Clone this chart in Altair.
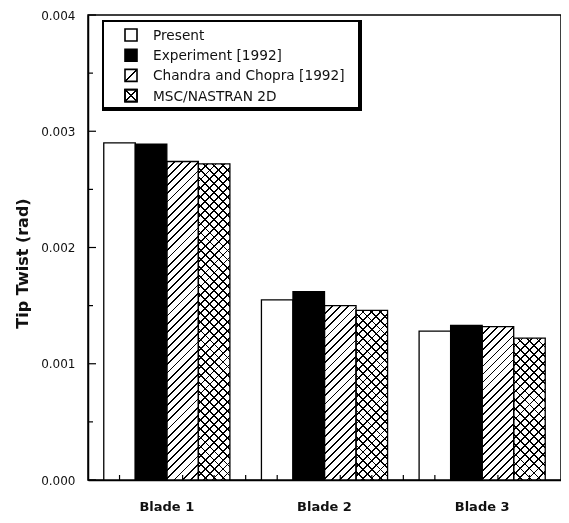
import math
import altair as alt
import pandas as pd

# ---------------- data ----------------
blades = ["Blade 1", "Blade 2", "Blade 3"]
series = ["Present", "Experiment [1992]", "Chandra and Chopra [1992]", "MSC/NASTRAN 2D"]
present = [0.00290, 0.00155, 0.00128]
experiment = [0.00289, 0.00162, 0.00133]
chandra = [0.00274, 0.00150, 0.00132]
msc = [0.00272, 0.00146, 0.00122]
y_major = [0.000, 0.001, 0.002, 0.003, 0.004]
y_minor = [0.0005, 0.0015, 0.0025, 0.0035]

# ---------------- layout / style ----------------
LEFT, TOP = 80, 7
W, H = 473, 465
YMAX = 0.004
PAD_IN, PAD_OUT = 0.2, 0.1
FONT = "DejaVu Sans"
INK = "#111111"

rows = []
for s, vals in zip(series, [present, experiment, chandra, msc]):
    for b, v in zip(blades, vals):
        rows.append({"blade": b, "series": s, "value": v})
df = pd.DataFrame(rows)

step = W / (len(blades) - PAD_IN + 2 * PAD_OUT)
bar_w = step * (1 - PAD_IN) / len(series)


def hatch(w, h, period, lw, direction, bg="white", fg="black", offsets=None):
    """Linear gradient that renders as diagonal hatch lines in a w x h box."""
    k = (w + h) / (w * w + h * h)
    if direction == "/":
        x1, y1, x2, y2 = 0, 0, k * w, k * h
    else:
        x1, y1, x2, y2 = 0, 1, k * w, 1 - k * h
    L = (w + h) / math.sqrt(2)
    if offsets is None:
        n = max(1, round(L / period))
        offsets = [i / n for i in range(n + 1)]
    d = lw / 2 / L
    stops = []
    for o in offsets:
        a = max(0.0, o - d)
        b = min(1.0, o + d)
        stops += [
            {"offset": a, "color": bg},
            {"offset": a, "color": fg},
            {"offset": b, "color": fg},
            {"offset": b, "color": bg},
        ]
    return {"gradient": "linear", "x1": x1, "y1": y1, "x2": x2, "y2": y2, "stops": stops}


x_axis = alt.Axis(
    title=None, ticks=False, labelAngle=0, labelFont=FONT, labelFontWeight="bold",
    labelFontSize=13, labelColor=INK, labelPadding=20,
    domainColor="black", domainWidth=1.5,
)
y_axis = alt.Axis(
    title="Tip Twist (rad)", values=y_major, format=".3f", ticks=False, grid=False,
    labelFont=FONT, labelFontSize=12, labelColor=INK, labelPadding=13,
    domainColor="black", domainWidth=1.5,
    titleFont=FONT, titleFontSize=16, titleFontWeight="bold", titleColor=INK,
    titleAngle=270, titleX=-66, titleY=248, titleAlign="center", titleBaseline="middle",
)

x_scale = alt.Scale(domain=blades, paddingInner=PAD_IN, paddingOuter=PAD_OUT)
xo_scale = alt.Scale(domain=series, paddingInner=0, paddingOuter=0)
y_scale = alt.Scale(domain=[0, YMAX], nice=False, zero=True)


def enc_xy(axes=False):
    if axes:
        return dict(
            x=alt.X("blade:N", sort=blades, scale=x_scale, axis=x_axis),
            xOffset=alt.XOffset("series:N", sort=series, scale=xo_scale),
            y=alt.Y("value:Q", scale=y_scale, axis=y_axis),
        )
    return dict(
        x=alt.X("blade:N", sort=blades, scale=x_scale),
        xOffset=alt.XOffset("series:N", sort=series, scale=xo_scale),
        y=alt.Y("value:Q", scale=y_scale),
    )


layers = []

# base fills (carries the axes)
layers.append(
    alt.Chart(df).mark_bar(strokeWidth=0).encode(
        fill=alt.Fill("series:N", scale=alt.Scale(domain=series, range=["white", "black", "white", "white"]), legend=None),
        **enc_xy(True),
    )
)

# hatched fills
for s, vals in [(series[2], chandra), (series[3], msc)]:
    for b, v in zip(blades, vals):
        h = v / YMAX * H
        flt = (alt.datum.series == s) & (alt.datum.blade == b)
        if s == series[2]:
            g = hatch(bar_w, h, 5.8, 1.3, "/")
            layers.append(alt.Chart(df).transform_filter(flt).mark_bar(fill=g, strokeWidth=0).encode(**enc_xy()))
        else:
            g1 = hatch(bar_w, h, 6.3, 1.3, "/")
            g2 = hatch(bar_w, h, 6.3, 1.3, "\\")
            layers.append(alt.Chart(df).transform_filter(flt).mark_bar(fill=g1, strokeWidth=0).encode(**enc_xy()))
            layers.append(alt.Chart(df).transform_filter(flt).mark_bar(fill=g2, strokeWidth=0, blend="multiply").encode(**enc_xy()))

# outlines
layers.append(
    alt.Chart(df).mark_bar(fillOpacity=0, stroke="black", strokeWidth=1.3).encode(**enc_xy())
)

# inward x ticks: under each bar and in each gap
layers.append(
    alt.Chart(df).mark_rule(color="black", strokeWidth=1.2).encode(
        x=alt.X("blade:N", sort=blades, scale=x_scale),
        xOffset=alt.XOffset("series:N", sort=series, scale=xo_scale),
        y=alt.value(H), y2=alt.value(H - 5),
    )
)
gap_df = pd.DataFrame({"blade": blades[1:]})
layers.append(
    alt.Chart(gap_df).mark_rule(color="black", strokeWidth=1.2, xOffset=-step * PAD_IN / 2).encode(
        x=alt.X("blade:N", sort=blades, scale=x_scale, bandPosition=0),
        y=alt.value(H), y2=alt.value(H - 5),
    )
)

# inward y ticks
layers.append(
    alt.Chart(pd.DataFrame({"value": y_major})).mark_rule(color="black", strokeWidth=1.2).encode(
        y=alt.Y("value:Q", scale=y_scale), x=alt.value(0), x2=alt.value(8)
    )
)
layers.append(
    alt.Chart(pd.DataFrame({"value": y_minor})).mark_rule(color="black", strokeWidth=1.2).encode(
        y=alt.Y("value:Q", scale=y_scale), x=alt.value(0), x2=alt.value(5)
    )
)

# legend box with shadow
one = pd.DataFrame({"a": [0]})
layers.append(alt.Chart(one).mark_rect(fill="black").encode(
    x=alt.value(14), x2=alt.value(274), y=alt.value(5), y2=alt.value(96)))
layers.append(alt.Chart(one).mark_rect(fill="white").encode(
    x=alt.value(16), x2=alt.value(270), y=alt.value(7), y2=alt.value(92)))

SYM = 12
SX = 37
sym_fills = [
    "white",
    "black",
    hatch(SYM, SYM, 0, 1.3, "/", offsets=[0.5]),
    hatch(SYM, SYM, 0, 1.3, "/", offsets=[0.5]),
]
for i, s in enumerate(series):
    yc = 20 + i * 20.2
    layers.append(alt.Chart(one).mark_rect(fill=sym_fills[i], stroke="black", strokeWidth=1.6).encode(
        x=alt.value(SX), x2=alt.value(SX + SYM), y=alt.value(yc - SYM / 2), y2=alt.value(yc + SYM / 2)))
    if i == 3:
        layers.append(alt.Chart(one).mark_rect(fill=hatch(SYM, SYM, 0, 1.3, "\\", offsets=[0.5]), blend="multiply").encode(
            x=alt.value(SX), x2=alt.value(SX + SYM), y=alt.value(yc - SYM / 2), y2=alt.value(yc + SYM / 2)))
        layers.append(alt.Chart(one).mark_rect(fillOpacity=0, stroke="black", strokeWidth=1.6).encode(
            x=alt.value(SX), x2=alt.value(SX + SYM), y=alt.value(yc - SYM / 2), y2=alt.value(yc + SYM / 2)))
    layers.append(alt.Chart(one).mark_text(align="left", baseline="middle", font=FONT, fontSize=13.7, color=INK).encode(
        x=alt.value(SX + 28), y=alt.value(yc + 1), text=alt.value(s)))

chart = alt.layer(*layers).properties(
    width=W, height=H,
    autosize=alt.AutoSizeParams(type="none"),
    padding={"left": LEFT, "top": TOP, "right": 0, "bottom": 35},
).configure(background="white").configure_view(stroke="black", strokeWidth=1.5)

chart.save("out.html", embed_options={"renderer": "svg", "actions": False})
